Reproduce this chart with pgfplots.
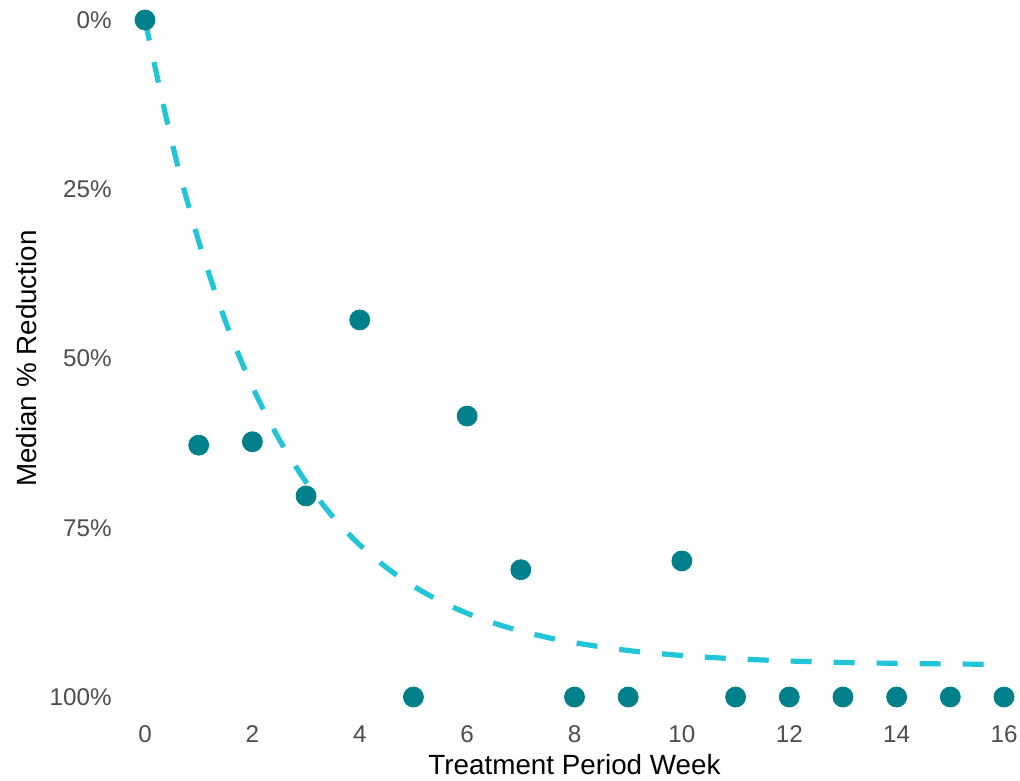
\documentclass[border=0pt]{standalone}
\usepackage{pgfplots}
\pgfplotsset{compat=1.18}
\usepackage{fontspec}
\setmainfont{Liberation Sans}
\definecolor{pt}{HTML}{00808A}
\definecolor{ln}{HTML}{22C5D8}
\definecolor{tk}{HTML}{4D4D4D}
\begin{document}
\begin{tikzpicture}
\begin{axis}[
  scale only axis, width=429.5pt, height=338.5pt,
  xmin=0, xmax=16, ymin=0, ymax=100, y dir=reverse,
  clip=false,
  axis line style={draw=none}, major tick length=0pt,
  xtick={0,2,4,6,8,10,12,14,16},
  xticklabels={0,2,4,6,8,10,12,14,16},
  ytick={0,25,50,75,100},
  yticklabels={0\%,25\%,50\%,75\%,100\%},
  tick label style={font=\fontsize{12.1}{14}\selectfont, text=tk, inner sep=0pt},
  xticklabel style={anchor=center, yshift=-18.5pt},
  yticklabel style={anchor=east, xshift=-16.5pt},
  xlabel={Treatment Period Week},
  ylabel={Median \% Reduction},
  label style={font=\fontsize{13.9}{16}\selectfont, text=black},
  xlabel style={at={(axis description cs:0.5,0)}, anchor=center, yshift=-34pt},
  ylabel style={at={(axis description cs:0,0.5)}, anchor=center, yshift=59pt},
]
\addplot[ln, line width=2.6pt, dash pattern=on 10.5pt off 11pt, smooth] coordinates {
(0,0) (0.5,18.05) (1,32.69) (1.5,44.54) (2,54.16) (2.5,61.95) (3,68.26) (3.5,73.39)
(4,77.54) (4.5,80.90) (5,83.63) (5.5,85.84) (6,87.63) (6.5,89.09) (7,90.26) (7.5,91.21)
(8,91.99) (9,93.13) (10,93.87) (11,94.36) (12,94.68) (13,94.90) (14,95.03) (15,95.12) (16,95.18)
};
\addplot[only marks, mark=*, mark size=5pt, mark options={fill=pt, draw=pt}] coordinates {
(0,0) (1,62.8) (2,62.3) (3,70.3) (4,44.3) (5,100) (6,58.5) (7,81.2) (8,100) (9,100)
(10,79.9) (11,100) (12,100) (13,100) (14,100) (15,100) (16,100)
};
\end{axis}
\pgfresetboundingbox
\path (-72.5pt,-41.5pt) rectangle (437.5pt,348.5pt);
\end{tikzpicture}
\end{document}
